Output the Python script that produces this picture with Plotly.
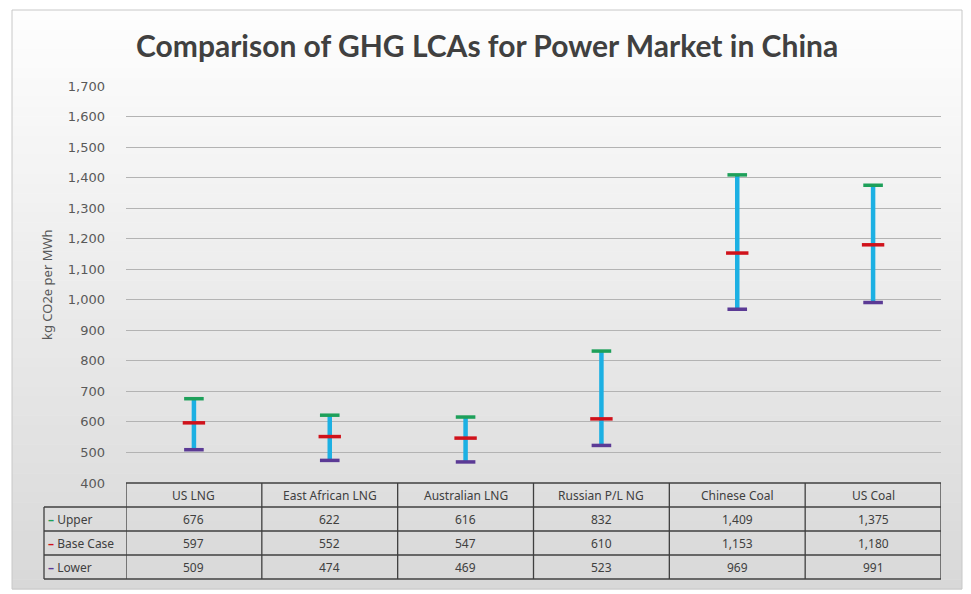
import plotly.graph_objects as go

categories = ["US LNG", "East African LNG", "Australian LNG", "Russian P/L NG", "Chinese Coal", "US Coal"]
upper = [676, 622, 616, 832, 1409, 1375]
base_case = [597, 552, 547, 610, 1153, 1180]
lower = [509, 474, 469, 523, 969, 991]
y_ticks = list(range(400, 1701, 100))

W, H = 971, 594
L, R, T, B = 126, 941, 86, 483
PW, PH = R - L, B - T

def py(y):
    return (B - y) / PH

def px(x):
    return (x - L) / PW

x_idx = list(range(len(categories)))

fig = go.Figure()

# cyan range line
fig.add_trace(go.Scatter(
    x=x_idx, y=lower, mode="markers", marker=dict(size=0.1, color="rgba(0,0,0,0)"),
    error_y=dict(type="data", symmetric=False,
                 array=[u - l for u, l in zip(upper, lower)],
                 arrayminus=[0] * len(lower),
                 thickness=4.5, width=0, color="#1cb0e3"),
    showlegend=False, hoverinfo="skip"))

for name, vals, col in [("Lower", lower, "#5b3a95"), ("Upper", upper, "#1ea05a"), ("Base Case", base_case, "#d0121b")]:
    fig.add_trace(go.Scatter(
        x=x_idx, y=vals, mode="markers", name=name,
        marker=dict(symbol="line-ew", size=16 if name == "Base Case" else 14,
                    line=dict(width=3.5, color=col)),
        showlegend=False))

shapes = []
# background gradient bands
top_y, bot_y = 10, 589
n = 60
for i in range(n):
    y0 = top_y + (bot_y - top_y) * i / n
    y1 = top_y + (bot_y - top_y) * (i + 1) / n + 0.5
    t = (i + 0.5) / n
    g = int(round(254 - t * (254 - 216)))
    shapes.append(dict(type="rect", xref="paper", yref="paper", layer="below",
                       x0=px(12), x1=px(962), y0=py(y1), y1=py(y0),
                       fillcolor=f"rgb({g},{g},{g})", line=dict(width=0)))
# outer border
shapes.append(dict(type="rect", xref="paper", yref="paper", layer="below",
                   x0=px(12), x1=px(962), y0=py(589), y1=py(10),
                   fillcolor="rgba(0,0,0,0)", line=dict(width=1, color="#c8c8c8")))

# table
bc = "#3f3f3f"
row_y = [483, 507, 531, 555, 579]
for ry in row_y:
    x0 = 126 if ry == 483 else 44
    shapes.append(dict(type="line", xref="paper", yref="paper", x0=px(x0), x1=px(941),
                       y0=py(ry), y1=py(ry), line=dict(width=1.3, color=bc)))
for i in range(len(categories) + 1):
    shapes.append(dict(type="line", xref="x", yref="paper", x0=i - 0.5, x1=i - 0.5,
                       y0=py(483), y1=py(579), line=dict(width=1.3, color=bc)))
shapes.append(dict(type="line", xref="paper", yref="paper", x0=px(44), x1=px(44),
                   y0=py(507), y1=py(579), line=dict(width=1.3, color=bc)))

annotations = []
tfont = dict(family="Noto Sans", size=12, color="#404040")
for i, c in enumerate(categories):
    annotations.append(dict(x=i, y=py(495), xref="x", yref="paper", text=c, showarrow=False,
                            font=tfont, xanchor="center", yanchor="middle"))
rows = [("Upper", upper, "#1ea05a", 519), ("Base Case", base_case, "#d0121b", 543), ("Lower", lower, "#5b3a95", 567)]
for name, vals, col, ry in rows:
    for i, v in enumerate(vals):
        annotations.append(dict(x=i, y=py(ry), xref="x", yref="paper", text=f"{v:,}", showarrow=False,
                                font=tfont, xanchor="center", yanchor="middle"))
    annotations.append(dict(x=px(46), y=py(ry), xref="paper", yref="paper",
                            text=f"<b><span style='color:{col}'>–</span></b> {name}", showarrow=False,
                            font=tfont, xanchor="left", yanchor="middle"))

annotations.append(dict(x=px(47), y=py(285), xref="paper", yref="paper", text="kg CO2e per MWh",
                        textangle=-90, showarrow=False,
                        font=dict(family="Noto Sans", size=13, color="#595959"),
                        xanchor="center", yanchor="middle"))
annotations.append(dict(x=px(487), y=py(45), xref="paper", yref="paper",
                        text="<b>Comparison of GHG LCAs for Power Market in China</b>",
                        showarrow=False, font=dict(family="Lato", size=30, color="#404040"),
                        xanchor="center", yanchor="middle"))

fig.update_layout(
    width=W, height=H,
    margin=dict(l=L, r=W - R, t=T, b=H - B, pad=0),
    paper_bgcolor="white", plot_bgcolor="rgba(0,0,0,0)",
    shapes=shapes, annotations=annotations, showlegend=False,
    xaxis=dict(range=[-0.5, len(categories) - 0.5], showgrid=False, zeroline=False,
               showticklabels=False, showline=False, ticks="", fixedrange=True),
    yaxis=dict(range=[400, 1700], tickvals=y_ticks, ticktext=[f"{v:,}" for v in y_ticks],
               showgrid=True, gridcolor="#b3b3b3", gridwidth=1, zeroline=False,
               showline=False, ticks="", ticklabelstandoff=20,
               tickfont=dict(family="DejaVu Sans", size=13, color="#595959")),
)

fig.write_html("out.html", config={"displayModeBar": False},
               post_script="document.body.style.margin='0';document.body.style.overflow='hidden';")
